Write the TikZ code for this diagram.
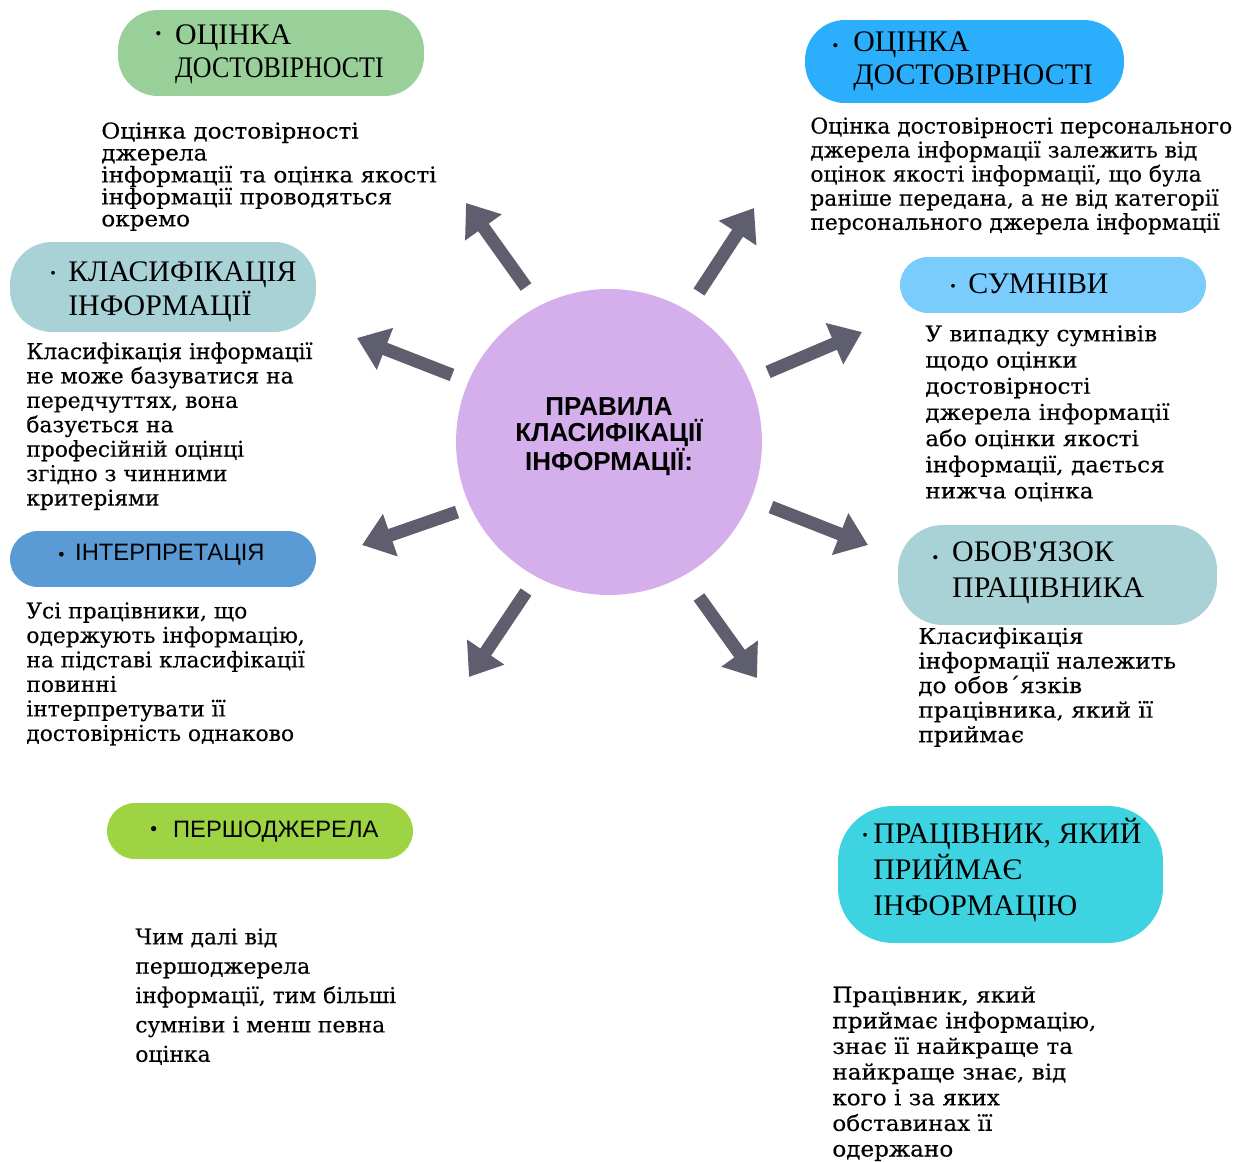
\documentclass[tikz,border=0pt]{standalone}
\usepackage{fontspec}
\setmainfont{DejaVu Serif}[FakeBold=0.3]
\newfontfamily\bodyw{DejaVu Serif}[FakeStretch=1.06,FakeBold=0.3]
\newfontfamily\tserif{Liberation Serif}
\newfontfamily\tsans{Liberation Sans}
\usetikzlibrary{arrows.meta}
\definecolor{cGreen}{HTML}{99CF99}
\definecolor{cBlue}{HTML}{2BAFFD}
\definecolor{cTeal}{HTML}{A8D2D6}
\definecolor{cLBlue}{HTML}{7ACCFC}
\definecolor{cMBlue}{HTML}{5B9BD5}
\definecolor{cLime}{HTML}{9ED443}
\definecolor{cCyan}{HTML}{3ED3E0}
\definecolor{cCirc}{HTML}{D5AFEC}
\definecolor{cArrow}{HTML}{5F5E6E}
\newcommand\bul[2]{\raisebox{#2}{\fontsize{#1}{#1}\selectfont\textbullet}}
\tikzset{
  pill/.style={rectangle, draw=none, inner sep=0pt},
  stitle/.style={anchor=west, inner sep=0pt, font=\fontsize{17}{19}\selectfont\tserif},
  sstitle/.style={anchor=west, inner sep=0pt, font=\fontsize{13.5}{16}\selectfont\tsans},
  body/.style={anchor=north west, inner sep=0pt, align=left, font=\fontsize{12.4}{#1}\selectfont},
  bodyw/.style={anchor=north west, inner sep=0pt, align=left, font=\fontsize{12.4}{#1}\selectfont\bodyw},
  bigarrow/.style={draw=cArrow, line width=0.26cm, -{Triangle[length=0.6cm,width=0.86cm]}},
}
\begin{document}
\begin{tikzpicture}[x=0.02cm,y=-0.02cm]
\useasboundingbox (0,0) rectangle (1240,1162);

% central circle
\node[circle, fill=cCirc, inner sep=0pt, minimum size=6.12cm] (c) at (609,442) {};
\node[align=center, inner sep=0pt, font=\fontsize{14.8}{14.7}\selectfont\tsans\bfseries] (ctitle) at (609,437)
  {ПРАВИЛА\\КЛАСИФІКАЦІЇ\\ІНФОРМАЦІЇ:};

% pills
\node[pill, fill=cGreen, minimum width=6.12cm, minimum height=1.72cm, rounded corners=0.8cm] (p1) at (271,53) {};
\node[pill, fill=cBlue, minimum width=6.38cm, minimum height=1.66cm, rounded corners=0.8cm] (p2) at (964.5,61.5) {};
\node[pill, fill=cTeal, minimum width=6.12cm, minimum height=1.80cm, rounded corners=0.84cm] (p3) at (163,287) {};
\node[pill, fill=cLBlue, minimum width=6.12cm, minimum height=1.12cm, rounded corners=0.56cm] (p4) at (1053,285) {};
\node[pill, fill=cMBlue, minimum width=6.12cm, minimum height=1.12cm, rounded corners=0.56cm] (p5) at (163,559) {};
\node[pill, fill=cTeal, minimum width=6.38cm, minimum height=2.0cm, rounded corners=0.9cm] (p6) at (1057.5,575) {};
\node[pill, fill=cLime, minimum width=6.12cm, minimum height=1.12cm, rounded corners=0.56cm] (p7) at (260,831) {};
\node[pill, fill=cCyan, minimum width=6.5cm, minimum height=2.74cm, rounded corners=1.1cm] (p8) at (1000.5,874.5) {};

% titles
\node[stitle] (t1) at (155,54.5) {\begin{tabular}{@{}l@{}l@{}}\makebox[11.3pt][l]{\bul{10}{2.6pt}}&ОЦІНКА\\&\scalebox{0.87}[1]{ДОСТОВІРНОСТІ}\end{tabular}};
\node[stitle] (t2) at (832,61.5) {\begin{tabular}{@{}l@{}l@{}}\makebox[11.9pt][l]{\bul{10}{0pt}}&ОЦІНКА\\&ДОСТОВІРНОСТІ\end{tabular}};
\node[stitle] (t3) at (50,292) {\begin{tabular}{@{}l@{}l@{}}\makebox[10.2pt][l]{\bul{9}{1.5pt}}&КЛАСИФІКАЦІЯ\\&ІНФОРМАЦІЇ\end{tabular}};
\node[stitle] (t4) at (950,287) {\begin{tabular}{@{}l@{}l@{}}\makebox[10.2pt][l]{\bul{9}{1.3pt}}&СУМНІВИ\end{tabular}};
\node[sstitle] (t5) at (58,555) {\begin{tabular}{@{}l@{}l@{}}\makebox[9.6pt][l]{\bul{10}{0pt}}&ІНТЕРПРЕТАЦІЯ\end{tabular}};
\node[stitle, font=\fontsize{17}{20.4}\selectfont\tserif] (t6) at (932,572) {\begin{tabular}{@{}l@{}l@{}}\makebox[11.3pt][l]{\bul{10}{-1pt}}&ОБОВ'ЯЗОК\\&ПРАЦІВНИКА\end{tabular}};
\node[sstitle] (t7) at (150,832) {\begin{tabular}{@{}l@{}l@{}}\makebox[13pt][l]{\bul{11}{1.2pt}}&ПЕРШОДЖЕРЕЛА\end{tabular}};
\node[stitle, font=\fontsize{17}{20.4}\selectfont\tserif] (t8) at (862,872) {\begin{tabular}{@{}l@{}l@{}}\makebox[6.2pt][l]{\bul{9}{1.8pt}}&ПРАЦІВНИК, ЯКИЙ\\&ПРИЙМАЄ\\&ІНФОРМАЦІЮ\end{tabular}};

% body texts
\node[bodyw=12.5pt] (b1) at (101,122) {Оцінка достовірності\\джерела\\інформації та оцінка якості\\інформації проводяться\\окремо};
\node[body=13.7pt] (b2) at (810,117) {Оцінка достовірності персонального\\джерела інформації залежить від\\оцінок якості інформації, що була\\раніше передана, а не від категорії\\персонального джерела інформації};
\node[body=13.9pt] (b3) at (26,342) {Класифікація інформації\\не може базуватися на\\передчуттях, вона\\базується на\\професійній оцінці\\згідно з чинними\\критеріями};
\node[bodyw=14.9pt] (b4) at (925,325) {У випадку сумнівів\\щодо оцінки\\достовірності\\джерела інформації\\або оцінки якості\\інформації, дається\\нижча оцінка};
\node[body=13.95pt] (b5) at (26,602) {Усі працівники, що\\одержують інформацію,\\на підставі класифікації\\повинні\\інтерпретувати її\\достовірність однаково};
\node[bodyw=14pt] (b6) at (918,627) {Класифікація\\інформації належить\\до обов´язків\\працівника, який її\\приймає};
\node[body=16.7pt] (b7) at (135,928) {Чим далі від\\першоджерела\\інформації, тим більші\\сумніви і менш певна\\оцінка};
\node[bodyw=14.6pt] (b8) at (832,986) {Працівник, який\\приймає інформацію,\\знає її найкраще та\\найкраще знає, від\\кого і за яких\\обставинах її\\одержано};

% arrows
\coordinate (a1s) at (526,287); \coordinate (a1e) at (466,203);
\coordinate (a2s) at (699,292); \coordinate (a2e) at (754,208);
\coordinate (a3s) at (452,375); \coordinate (a3e) at (357,338);
\coordinate (a4s) at (768,372); \coordinate (a4e) at (862,332);
\coordinate (a5s) at (457,512); \coordinate (a5e) at (362,545);
\coordinate (a6s) at (771,507); \coordinate (a6e) at (868,545);
\coordinate (a7s) at (526,592); \coordinate (a7e) at (469,677);
\coordinate (a8s) at (699,597); \coordinate (a8e) at (757,678);
\foreach \i in {1,...,8} { \draw[bigarrow] (a\i s) -- (a\i e); }
\end{tikzpicture}
\end{document}
